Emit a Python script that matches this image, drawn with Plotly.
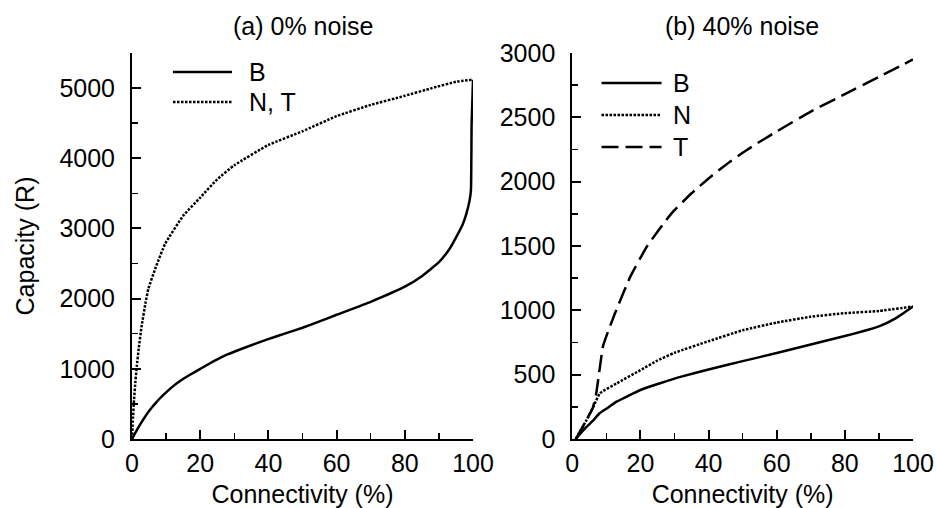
import plotly.graph_objects as go

# ---- data: (a) 0% noise ----
b0_x = [0, 1, 2, 3, 4, 5, 6, 7, 8, 10, 12, 14, 17, 20, 24, 28, 33, 39.5, 45, 50, 55, 60, 70, 80, 85, 90, 93, 95, 97, 98, 99, 99.4, 99.6, 100]
b0_y = [0, 90, 175, 255, 330, 400, 460, 515, 570, 665, 750, 823, 915, 999, 1110, 1205, 1300, 1416, 1505, 1585, 1675, 1770, 1955, 2170, 2320, 2520, 2700, 2870, 3060, 3200, 3400, 3550, 4500, 5120]
nt0_x = [0, 0.3, 0.6, 1, 1.4, 2, 2.8, 4, 4.8, 7, 9.7, 15, 20, 25, 30, 40, 50, 60, 70, 80, 88, 95, 100]
nt0_y = [0, 300, 560, 820, 1030, 1300, 1600, 1950, 2140, 2450, 2780, 3180, 3440, 3700, 3900, 4190, 4385, 4600, 4760, 4890, 5000, 5090, 5120]

# ---- data: (b) 40% noise ----
b40_x = [1, 4, 6, 8, 10, 13, 20, 26, 32, 40, 50, 60, 70, 80, 85, 90, 95, 100]
b40_y = [0, 90, 140, 200, 235, 290, 381, 435, 485, 540, 605, 668, 735, 800, 835, 875, 940, 1030]
n40_x = [1, 4.2, 6.2, 8.1, 13, 20, 25, 30, 40, 50, 60, 70, 80, 90, 100]
n40_y = [0, 149, 252, 355, 432, 535, 610, 670, 760, 845, 905, 950, 978, 995, 1030]
t40_x = [1, 4, 6, 7, 7.6, 9, 10, 12.5, 17, 22, 29, 35, 40, 45, 50, 55, 60, 70, 80, 90, 100]
t40_y = [0, 140, 240, 350, 460, 720, 800, 975, 1260, 1500, 1750, 1910, 2025, 2130, 2225, 2310, 2390, 2545, 2680, 2815, 2950]

x_ticks = [0, 20, 40, 60, 80, 100]
y0_ticks = [0, 1000, 2000, 3000, 4000, 5000]
y40_ticks = [0, 500, 1000, 1500, 2000, 2500, 3000]

legend0_names = ["B", "N, T"]
legend40_names = ["B", "N", "T"]

FONT = "Liberation Sans, Arial, Helvetica, sans-serif"
FS = 25
W, H = 936, 508
ML, MR, MT, MB = 132, 23, 53, 68.5
PW, PH = W - ML - MR, H - MT - MB

def px(xpix):
    return (xpix - ML) / PW

def py(ypix):
    return (H - MB - ypix) / PH

SOLID = dict(color="black", width=2.5)
DOT = dict(color="black", width=2.5, dash="2.5px,1.5px")
DASH = dict(color="black", width=2.5, dash="17px,7px")

fig = go.Figure()
fig.add_trace(go.Scatter(x=b0_x, y=b0_y, mode="lines", name=legend0_names[0],
                         line=dict(**SOLID, shape="spline", smoothing=0.4), xaxis="x", yaxis="y"))
fig.add_trace(go.Scatter(x=nt0_x, y=nt0_y, mode="lines", name=legend0_names[1],
                         line=dict(**DOT, shape="spline", smoothing=0.4), xaxis="x", yaxis="y"))
fig.add_trace(go.Scatter(x=b40_x, y=b40_y, mode="lines", name=legend40_names[0],
                         line=dict(**SOLID, shape="spline", smoothing=0.4), xaxis="x2", yaxis="y2"))
fig.add_trace(go.Scatter(x=n40_x, y=n40_y, mode="lines", name=legend40_names[1],
                         line=dict(**DOT, shape="spline", smoothing=0.4), xaxis="x2", yaxis="y2"))
fig.add_trace(go.Scatter(x=t40_x, y=t40_y, mode="lines", name=legend40_names[2],
                         line=dict(**DASH, shape="spline", smoothing=0.4), xaxis="x2", yaxis="y2"))

def xaxis_cfg(domain, anchor):
    return dict(domain=domain, anchor=anchor, range=[0, 100], tickvals=x_ticks,
                ticks="inside", ticklen=9, tickwidth=2, tickcolor="black",
                minor=dict(dtick=10, tick0=0, ticks="inside", ticklen=6, tickwidth=1.5, tickcolor="black"),
                showline=True, linewidth=2, linecolor="black", showgrid=False, zeroline=False,
                ticklabelstandoff=1, automargin=False,
                title=dict(text="Connectivity (%)", standoff=11, font=dict(size=FS, family=FONT, color="black")),
                tickfont=dict(size=FS, family=FONT, color="black"))

def yaxis_cfg(anchor, rng, tickvals, minor_dtick, title=None):
    d = dict(domain=[0, 1], anchor=anchor, range=rng, tickvals=tickvals,
             ticks="inside", ticklen=9, tickwidth=2, tickcolor="black",
             minor=dict(dtick=minor_dtick, tick0=0, ticks="inside", ticklen=6, tickwidth=1.5, tickcolor="black"),
             showline=True, linewidth=2, linecolor="black", showgrid=False, zeroline=False,
             ticklabelstandoff=10, automargin=False,
             tickfont=dict(size=FS, family=FONT, color="black"))
    if title:
        d["title"] = dict(text=title, standoff=18, font=dict(size=FS, family=FONT, color="black"))
    return d

# legend keys (drawn as in the reference: long sample lines with labels)
shapes = []
annotations = []
leg0 = [(legend0_names[0], SOLID, 72), (legend0_names[1], DOT, 102)]
for name, st, yy in leg0:
    shapes.append(dict(type="line", xref="paper", yref="paper", x0=px(173), x1=px(232), y0=py(yy), y1=py(yy),
                       line=dict(color=st["color"], width=st["width"], dash=st.get("dash", "solid"))))
    annotations.append(dict(text=name, x=px(247), y=py(yy), xref="paper", yref="paper",
                            xanchor="left", yanchor="middle", showarrow=False,
                            font=dict(size=FS, family=FONT, color="black")))
leg40 = [(legend40_names[0], SOLID, 83), (legend40_names[1], DOT, 115), (legend40_names[2], DASH, 147)]
for name, st, yy in leg40:
    shapes.append(dict(type="line", xref="paper", yref="paper", x0=px(601.5), x1=px(661.5), y0=py(yy), y1=py(yy),
                       line=dict(color=st["color"], width=st["width"], dash=st.get("dash", "solid"))))
    annotations.append(dict(text=name, x=px(671), y=py(yy), xref="paper", yref="paper",
                            xanchor="left", yanchor="middle", showarrow=False,
                            font=dict(size=FS, family=FONT, color="black")))

annotations += [
    dict(text="(a) 0% noise", x=px(302.5), y=py(26), xref="paper", yref="paper",
         xanchor="center", yanchor="middle", showarrow=False,
         font=dict(size=FS, family=FONT, color="black")),
    dict(text="(b) 40% noise", x=px(741.5), y=py(26), xref="paper", yref="paper",
         xanchor="center", yanchor="middle", showarrow=False,
         font=dict(size=FS, family=FONT, color="black")),
]

fig.update_layout(
    width=W, height=H, autosize=False,
    margin=dict(l=ML, r=MR, t=MT, b=MB),
    paper_bgcolor="white", plot_bgcolor="white",
    font=dict(family=FONT, size=FS, color="black"),
    xaxis=xaxis_cfg([0, px(473)], "y"),
    yaxis=yaxis_cfg("x", [0, 5500], y0_ticks, 500, "Capacity (R)"),
    xaxis2=xaxis_cfg([px(572.3), 1], "y2"),
    yaxis2=yaxis_cfg("x2", [0, 3000], y40_ticks, 250),
    showlegend=False,
    hovermode=False,
    shapes=shapes,
    annotations=annotations,
)

fig.write_html("out.html",
               config={"displayModeBar": False, "staticPlot": True},
               post_script="document.body.style.margin='0';document.body.style.padding='0';document.body.style.overflow='hidden';")
